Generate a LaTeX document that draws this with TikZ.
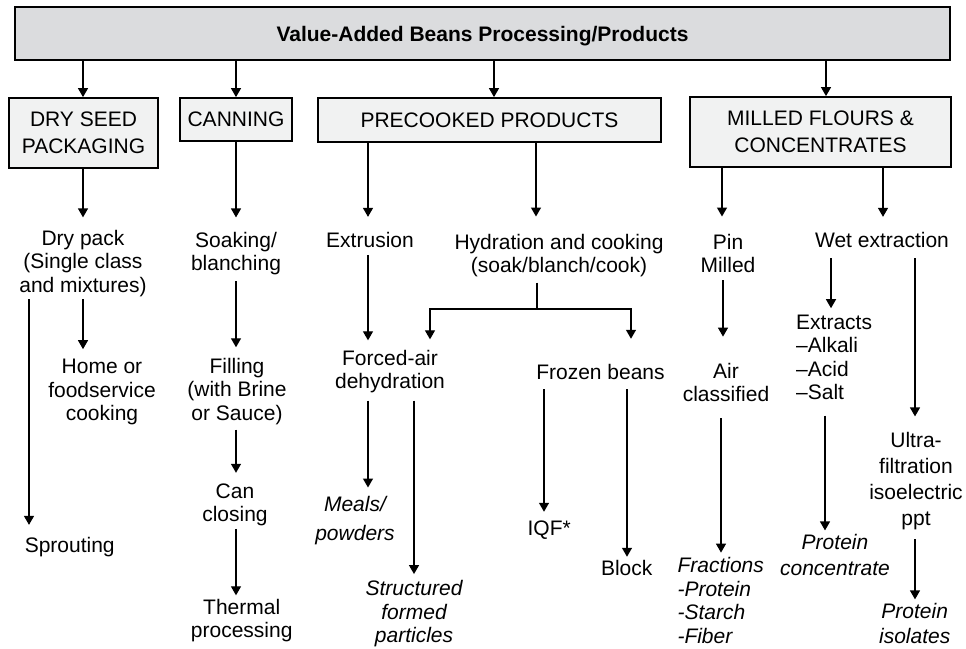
\documentclass[tikz,border=0pt]{standalone}
\usepackage{fontspec}
\setmainfont{Liberation Sans}
\usetikzlibrary{arrows.meta}
\definecolor{headgray}{HTML}{DBDCDE}
\definecolor{boxgray}{HTML}{F1F2F2}

\begin{document}
\begin{tikzpicture}[x=1pt, y=-1pt,
    txt/.style={font=\fontsize{21}{23.5}\selectfont, align=center, inner sep=0pt,
        execute at begin node=\strut, execute at end node=\strut},
    ital/.style={txt, font=\fontsize{21}{23.5}\selectfont\itshape},
    headbox/.style={draw, line width=1.8pt, fill=headgray, inner sep=0pt, text depth=0pt,
        font=\fontsize{21}{24}\selectfont\bfseries},
    catbox/.style={draw, line width=1.8pt, fill=boxgray, inner sep=0pt, align=center,
        font=\fontsize{21}{27.5}\selectfont},
    arr/.style={line width=1.3pt, -{Triangle[width=10pt,length=9pt]}}]
    \useasboundingbox (0,0) rectangle (966,648);

    % header and the four branches
    \node[headbox, minimum width=935pt, minimum height=53pt] (root) at (482.5,33.5) {Value-Added Beans Processing/Products};
    \node[catbox, minimum width=149pt, minimum height=70pt] (dry) at (83.5,133) {DRY SEED\\PACKAGING};
    \node[catbox, minimum width=112pt, minimum height=43pt] (can) at (236,119.5) {CANNING};
    \node[catbox, minimum width=343pt, minimum height=44pt] (pre) at (489.5,120) {PRECOOKED PRODUCTS};
    \node[catbox, minimum width=261pt, minimum height=70pt] (mill) at (820.5,132) {MILLED FLOURS \&\\CONCENTRATES};

    % second row
    \node[txt] (drypack) at (83,264.5) {Dry pack\\(Single class\\and mixtures)};
    \node[txt] (soak) at (236,255) {Soaking/\\blanching};
    \node[txt] (extr) at (370,242.8) {Extrusion};
    \node[txt] (hydr) at (559,257) {Hydration and cooking\\(soak/blanch/cook)};
    \node[txt] (pin) at (728,257) {Pin\\Milled};
    \node[txt] (wet) at (882,242.8) {Wet extraction};

    % third row
    \node[txt] (home) at (102,393.3) {Home or\\foodservice\\cooking};
    \node[txt] (fill) at (237,392.8) {Filling\\(with Brine\\or Sauce)};
    \node[txt] (forced) at (390,372.8) {Forced-air\\dehydration};
    \node[txt] (frozen) at (600.5,375.1) {Frozen beans};
    \node[txt] (aircl) at (726,386.1) {Air\\classified};
    \node[txt, align=left, anchor=west] (extracts) at (796,360.8) {Extracts\\–Alkali\\–Acid\\–Salt};

    % end products
    \node[txt] (sprout) at (69.7,547.8) {Sprouting};
    \node[txt] (canclose) at (235,506) {Can\\closing};
    \node[txt] (thermal) at (241.7,621.8) {Thermal\\processing};
    \node[ital] (meals) at (355,522) {Meals/\\[4.8pt]powders};
    \node[ital] (struct) at (414,615.3) {Structured\\formed\\particles};
    \node[txt] (iqf) at (549.2,531.1) {IQF*};
    \node[txt] (block) at (626.7,571.1) {Block};
    \node[ital, align=left, anchor=west] (fract) at (677.3,604) {Fractions\\-Protein\\-Starch\\-Fiber};
    \node[ital] (protconc) at (835,558.5) {Protein\\[3.2pt]concentrate};
    \node[txt] (ultra) at (916,482.3) {Ultra-\\[2.4pt]filtration\\[2.4pt]isoelectric\\[2.4pt]ppt};
    \node[ital] (protiso) at (914.7,627) {Protein\\[1.5pt]isolates};

    % arrows
    \draw[arr] (root.south -| 83,0) -- (dry.north -| 83,0);
    \draw[arr] (root.south -| 236,0) -- (can.north -| 236,0);
    \draw[arr] (root.south -| 494,0) -- (pre.north -| 494,0);
    \draw[arr] (root.south -| 826,0) -- (mill.north -| 826,0);

    \draw[arr, shorten >=12.3pt] (dry.south -| 83,0) -- (drypack.north -| 83,0);
    \draw[arr, shorten >=14.5pt] (can.south -| 236,0) -- (soak.north -| 236,0);
    \draw[arr, shorten >=14pt] (pre.south -| 368,0) -- (extr.north -| 368,0);
    \draw[arr, shorten >=17.4pt] (pre.south -| 536,0) -- (hydr.north -| 536,0);
    \draw[arr, shorten >=17.4pt] (mill.south -| 722,0) -- (pin.north -| 722,0);
    \draw[arr, shorten >=14pt] (mill.south -| 883,0) -- (wet.north -| 883,0);

    \draw[arr, shorten >=11pt] (drypack.south -| 29,0) -- (sprout.north -| 29,0);
    \draw[arr, shorten >=9.7pt] (drypack.south -| 83,0) -- (home.north -| 83,0);
    \draw[arr, shorten <=3pt, shorten >=10.7pt] (soak.south -| 236,0) -- (fill.north -| 236,0);
    \draw[arr, shorten >=9.4pt] (extr.south -| 368,0) -- (forced.north -| 368,0);
    \coordinate (split) at (537,309);
    \draw[line width=1.3pt, shorten <=2.5pt] (hydr.south -| split) -- (split);
    \draw[arr, shorten >=10.4pt] (split) -| (forced.north -| 430,0);
    \draw[arr, shorten >=24.4pt] (split) -| (frozen.north -| 631,0);
    \draw[arr, shorten >=26.4pt] (pin.south -| 723,0) -- (aircl.north -| 723,0);
    \draw[arr, shorten <=3.5pt, shorten >=6.4pt] (wet.south -| 831,0) -- (extracts.north -| 831,0);
    \draw[arr, shorten <=3.5pt, shorten >=15.7pt] (wet.south -| 915,0) -- (ultra.north -| 915,0);

    \draw[arr, shorten <=2pt, shorten >=10.4pt] (fill.south -| 236,0) -- (canclose.north -| 236,0);
    \draw[arr, shorten >=3.4pt] (canclose.south -| 236,0) -- (thermal.north -| 236,0);
    \draw[arr, shorten <=4.7pt, shorten >=9pt] (forced.south -| 368,0) -- (meals.north -| 368,0);
    \draw[arr, shorten <=4.7pt, shorten >=6.4pt] (forced.south -| 414,0) -- (struct.north -| 414,0);
    \draw[arr, shorten <=2pt, shorten >=7.4pt] (frozen.south -| 544,0) -- (iqf.north -| 544,0);
    \draw[arr, shorten <=2pt, shorten >=2.4pt] (frozen.south -| 627,0) -- (block.north -| 627,0);
    \draw[arr, shorten <=9pt, shorten >=4.8pt] (aircl.south -| 721,0) -- (fract.north -| 721,0);
    \draw[arr, shorten <=8.7pt, shorten >=3.4pt] (extracts.south -| 825,0) -- (protconc.north -| 825,0);
    \draw[arr, shorten <=7pt, shorten >=3.8pt] (ultra.south -| 915,0) -- (protiso.north -| 915,0);
\end{tikzpicture}
\end{document}
